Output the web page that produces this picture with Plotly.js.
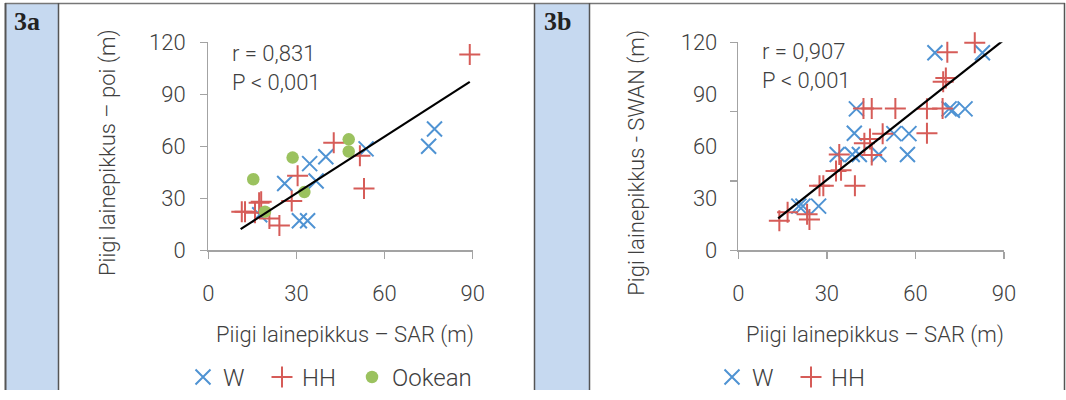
<!DOCTYPE html>
<html>
<head>
<meta charset="utf-8">
<script src="https://cdn.plot.ly/plotly-3.0.1.min.js"></script>
<style>html,body{margin:0;padding:0;background:#fff;}#chart{width:1066px;height:400px;}</style>
</head>
<body>
<div id="chart"></div>
<script>
// ---------- Panel 3a data (SAR vs poi) ----------
const aW_x = [77, 75, 53.7, 40, 34.5, 36.7, 26, 31, 33.8, 17.5];
const aW_y = [70, 60, 58.5, 54, 50, 40, 38.5, 17, 17, 20.5];
const aHH_x = [89, 42.7, 51.6, 53, 30.4, 28.4, 24.2, 20.8, 17.3, 18, 15.9, 11.4, 12.5];
const aHH_y = [113, 62, 54.6, 35.7, 43, 28.5, 14.3, 18.3, 27.4, 28, 21.6, 22.2, 22.2];
const aOok_x = [47.8, 47.8, 28.7, 15.3, 32.7, 19.3];
const aOok_y = [64, 57, 53.5, 41, 33.6, 22.3];
const aTrend = [1.09, 0.2];          // slope, intercept
const aTrendRange = [11, 89];
const aStats = ["r = 0,831", "P < 0,001"];

// ---------- Panel 3b data (SAR vs SWAN) ----------
const bW_x = [66.6, 82.7, 40, 71.4, 72.5, 76.8, 39.3, 52.7, 57.8, 57.3, 33.5, 38.6, 41, 47.6, 20.5, 21.9, 27.2];
const bW_y = [114, 114, 81.6, 81.6, 80.8, 81.6, 67.5, 67.3, 67.3, 55.3, 55.3, 55.3, 55.3, 55.3, 25.5, 25.5, 25.5];
const bHH_x = [80.1, 70.8, 70.3, 69.4, 69.2, 42.4, 45.2, 53.2, 63.9, 63.9, 48.9, 44.6, 42.7, 45.2, 34.2, 33.1, 34.8, 39.5, 27.5, 28.8, 23.3, 24.1, 13.9, 16.7];
const bHH_y = [119.7, 114.2, 99.4, 97.3, 81.8, 81.8, 81.8, 81.8, 81.6, 67.5, 67.3, 64.2, 61.7, 55, 55.3, 45.8, 46.2, 37.3, 37.2, 37.2, 20.8, 17.8, 17.1, 22];
const bTrend = [1.347, 0.21];
const bTrendRange = [13.5, 91];
const bStats = ["r = 0,907", "P < 0,001"];

// ---------- ticks & labels ----------
const xTicks = [0, 30, 60, 90];
const yTicks = [0, 30, 60, 90, 120];
const bTickMarks = [0, 40, 80, 120];
const xTitle = "Piigi lainepikkus – SAR (m)";
const aYTitle = "Piigi lainepikkus – poi (m)";
const bYTitle = "Pigi lainepikkus - SWAN (m)";
const panelLabels = ["3a", "3b"];
const seriesNames = ["W", "HH", "Ookean"];

const BLUE = "#4f93d3", RED = "#d65c58", GREEN = "#9bc25f";
const FONT = "Roboto, 'Open Sans', sans-serif";
const TXT = "#404040";
const AX = "#a3a3a3";

function trendLine(coef, rng) {
  return { x: rng.slice(), y: rng.map(v => coef[0] * v + coef[1]) };
}
const aT = trendLine(aTrend, aTrendRange);
const bT = trendLine(bTrend, bTrendRange);

const xMark = { symbol: "x-thin-open", size: 15, color: BLUE, line: { color: BLUE, width: 2 } };
const pMark = { symbol: "cross-thin-open", size: 15, color: RED, line: { color: RED, width: 2 } };
const oMark = { symbol: "circle", size: 12.5, color: GREEN, line: { width: 0 } };

const traces = [
  { type: "scatter", mode: "markers", x: aW_x, y: aW_y, name: seriesNames[0], marker: xMark, xaxis: "x", yaxis: "y", legend: "legend", legendwidth: 34, cliponaxis: false },
  { type: "scatter", mode: "markers", x: aHH_x, y: aHH_y, name: seriesNames[1], marker: pMark, xaxis: "x", yaxis: "y", legend: "legend", legendwidth: 45, cliponaxis: false },
  { type: "scatter", mode: "markers", x: aOok_x, y: aOok_y, name: seriesNames[2], marker: oMark, xaxis: "x", yaxis: "y", legend: "legend", cliponaxis: false },
  { type: "scatter", mode: "lines", x: aT.x, y: aT.y, line: { color: "#000", width: 2.2 }, showlegend: false, xaxis: "x", yaxis: "y", cliponaxis: false },
  { type: "scatter", mode: "markers", x: bW_x, y: bW_y, name: seriesNames[0], marker: xMark, xaxis: "x2", yaxis: "y2", legend: "legend2", legendwidth: 34, cliponaxis: false },
  { type: "scatter", mode: "markers", x: bHH_x, y: bHH_y, name: seriesNames[1], marker: pMark, xaxis: "x2", yaxis: "y2", legend: "legend2", cliponaxis: false },
  { type: "scatter", mode: "lines", x: bT.x, y: bT.y, line: { color: "#000", width: 2.2 }, showlegend: false, xaxis: "x2", yaxis: "y2", cliponaxis: false },
  // empty trace so that the label axis (y3) of panel b is drawn
  { type: "scatter", mode: "markers", x: [], y: [], xaxis: "x2", yaxis: "y3", showlegend: false, hoverinfo: "skip" }
];

const W = 1066, H = 400;
const px = v => v / W;
const py = v => 1 - v / H;

const tickFont = { family: FONT, size: 22, color: TXT, weight: 300 };
function xAx(domain, anchor) {
  return { domain, anchor, range: [0, 90], tickmode: "array", tickvals: xTicks, ticks: "outside", ticklen: 7,
    tickcolor: AX, tickwidth: 1.3, showline: true, linecolor: AX, linewidth: 1.3, showgrid: false, zeroline: false,
    tickfont: tickFont, ticklabelstandoff: 16, fixedrange: true };
}
function yAx(domain, anchor, vals, showLabels) {
  return { domain, anchor, range: [0, 120], tickmode: "array", tickvals: vals, ticks: "outside", ticklen: 7,
    tickcolor: AX, tickwidth: 1.3, showline: true, linecolor: AX, linewidth: 1.3, showgrid: false, zeroline: false,
    showticklabels: showLabels, tickfont: tickFont, ticklabelstandoff: 10, fixedrange: true };
}
const yDom = [py(256.7), py(43.4)];

const annFont = { family: FONT, size: 22, color: TXT, weight: 300 };
const titleFont = { family: FONT, size: 22, color: TXT, weight: 300 };
const annotations = [
  { xref: "paper", yref: "paper", x: px(230), y: py(55), xanchor: "left", yanchor: "middle", text: aStats[0], showarrow: false, font: annFont },
  { xref: "paper", yref: "paper", x: px(230), y: py(85), xanchor: "left", yanchor: "middle", text: aStats[1], showarrow: false, font: annFont },
  { xref: "paper", yref: "paper", x: px(760), y: py(53), xanchor: "left", yanchor: "middle", text: bStats[0], showarrow: false, font: annFont },
  { xref: "paper", yref: "paper", x: px(760), y: py(83), xanchor: "left", yanchor: "middle", text: bStats[1], showarrow: false, font: annFont },
  { xref: "paper", yref: "paper", x: px(345), y: py(344), xanchor: "center", yanchor: "middle", text: xTitle, showarrow: false, font: titleFont },
  { xref: "paper", yref: "paper", x: px(875), y: py(344), xanchor: "center", yanchor: "middle", text: xTitle, showarrow: false, font: titleFont },
  { xref: "paper", yref: "paper", x: px(108), y: py(157), xanchor: "center", yanchor: "middle", textangle: -90, text: aYTitle, showarrow: false, font: titleFont },
  { xref: "paper", yref: "paper", x: px(637), y: py(167), xanchor: "center", yanchor: "middle", textangle: -90, text: bYTitle, showarrow: false, font: titleFont },
  { xref: "paper", yref: "paper", x: px(12), y: py(22), xanchor: "left", yanchor: "middle", text: "<b>" + panelLabels[0] + "</b>", showarrow: false, font: { family: "'Liberation Serif', 'DejaVu Serif', serif", size: 26, color: "#222" } },
  { xref: "paper", yref: "paper", x: px(542), y: py(22), xanchor: "left", yanchor: "middle", text: "<b>" + panelLabels[1] + "</b>", showarrow: false, font: { family: "'Liberation Serif', 'DejaVu Serif', serif", size: 26, color: "#222" } }
];

const LINE = "#555";
const shapes = [
  { type: "rect", xref: "paper", yref: "paper", x0: px(6), x1: px(58), y0: 0, y1: py(4), fillcolor: "#c6d9f0", line: { width: 0 }, layer: "below" },
  { type: "rect", xref: "paper", yref: "paper", x0: px(535), x1: px(589), y0: 0, y1: py(4), fillcolor: "#c6d9f0", line: { width: 0 }, layer: "below" },
  { type: "line", xref: "paper", yref: "paper", x0: px(5), x1: px(1065), y0: py(3.5), y1: py(3.5), line: { color: "#777", width: 1.5 } },
  { type: "line", xref: "paper", yref: "paper", x0: px(5.5), x1: px(5.5), y0: 0, y1: py(3), line: { color: LINE, width: 2 } },
  { type: "line", xref: "paper", yref: "paper", x0: px(58.5), x1: px(58.5), y0: 0, y1: py(3), line: { color: LINE, width: 1.5 } },
  { type: "line", xref: "paper", yref: "paper", x0: px(534.5), x1: px(534.5), y0: 0, y1: py(3), line: { color: LINE, width: 1.5 } },
  { type: "line", xref: "paper", yref: "paper", x0: px(589.5), x1: px(589.5), y0: 0, y1: py(3), line: { color: LINE, width: 1.5 } },
  { type: "line", xref: "paper", yref: "paper", x0: px(1064.5), x1: px(1064.5), y0: 0, y1: py(3), line: { color: LINE, width: 1.5 } }
];

const legFont = { family: FONT, size: 24, color: TXT, weight: 300 };
const layout = {
  width: W, height: H,
  margin: { l: 0, r: 0, t: 0, b: 0 },
  paper_bgcolor: "#ffffff", plot_bgcolor: "rgba(0,0,0,0)",
  showlegend: true,
  xaxis: xAx([px(208.3), px(472.7)], "y"),
  yaxis: yAx(yDom, "x", yTicks, true),
  xaxis2: xAx([px(738.3), px(1004)], "y2"),
  yaxis2: yAx(yDom, "x2", bTickMarks, false),
  yaxis3: Object.assign(yAx(yDom, "x2", yTicks, true), { overlaying: "y2", ticks: "", showline: false, ticklabelstandoff: 20 }),
  legend: { orientation: "h", x: px(183), y: py(364), xanchor: "left", yanchor: "top", font: legFont, bgcolor: "rgba(0,0,0,0)", itemclick: false },
  legend2: { orientation: "h", x: px(712), y: py(364), xanchor: "left", yanchor: "top", font: legFont, bgcolor: "rgba(0,0,0,0)", itemclick: false },
  annotations, shapes
};

Plotly.newPlot("chart", traces, layout, { staticPlot: true, displayModeBar: false });
</script>
</body>
</html>
